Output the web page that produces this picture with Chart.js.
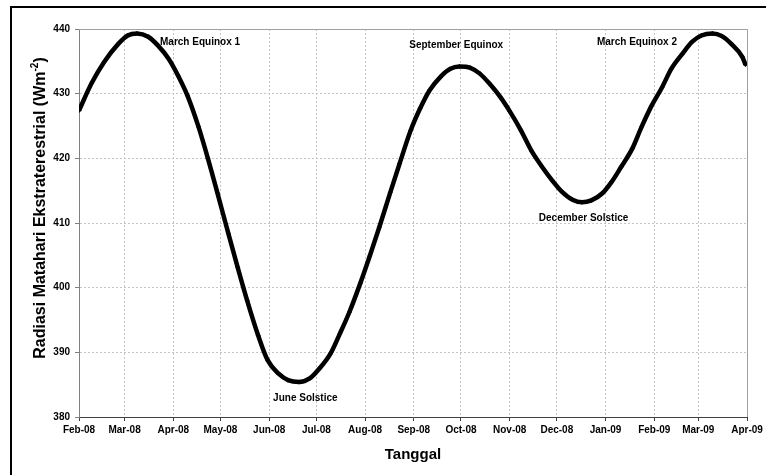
<!DOCTYPE html>
<html>
<head>
<meta charset="utf-8">
<script src="https://cdn.jsdelivr.net/npm/chart.js@4.4.1/dist/chart.umd.min.js"></script>
<style>
  html, body { margin: 0; padding: 0; background: #fff; overflow: hidden; }
  #wrap { position: relative; width: 766px; height: 475px; }
  #frame { position: absolute; left: 10px; top: 6px; width: 800px; height: 520px; border: 2px solid #000; pointer-events: none; }
</style>
</head>
<body>
<div id="wrap">
  <canvas id="chart" width="766" height="475"></canvas>
  <div id="frame"></div>
</div>
<script>
const dates = [
  '2008-02-01','2008-02-09','2008-02-17','2008-02-26','2008-03-03','2008-03-09','2008-03-16','2008-03-22','2008-03-29',
  '2008-04-04','2008-04-10','2008-04-17','2008-04-23','2008-04-29','2008-05-06','2008-05-12','2008-05-18','2008-05-25','2008-05-31',
  '2008-06-07','2008-06-13','2008-06-20','2008-06-27','2008-07-03','2008-07-10','2008-07-16','2008-07-22','2008-07-29',
  '2008-08-04','2008-08-10','2008-08-17','2008-08-23','2008-08-30','2008-09-05','2008-09-11','2008-09-18','2008-09-24','2008-09-30',
  '2008-10-07','2008-10-13','2008-10-19','2008-10-26','2008-11-01','2008-11-08','2008-11-15','2008-11-21','2008-11-28',
  '2008-12-04','2008-12-11','2008-12-17','2008-12-23','2008-12-30','2009-01-05','2009-01-11','2009-01-18','2009-01-24','2009-01-30',
  '2009-02-06','2009-02-12','2009-02-19','2009-02-25','2009-03-03','2009-03-10','2009-03-16','2009-03-22','2009-03-29','2009-03-31'
];
const radiation = [
  427.4, 431.6, 434.9, 437.7, 439.0, 439.3, 438.8, 437.5, 435.4,
  432.8, 429.7, 424.9, 420.0, 414.7, 408.4, 403.1, 398.0, 392.6, 388.8,
  386.7, 385.7, 385.4, 386.0, 387.5, 389.8, 392.9, 396.2, 400.7,
  404.9, 409.3, 414.7, 419.2, 424.3, 427.7, 430.5, 432.6, 433.8, 434.2,
  434.0, 433.1, 431.6, 429.5, 427.3, 424.4, 421.1, 418.9, 416.6,
  414.9, 413.6, 413.2, 413.5, 414.6, 416.4, 418.7, 421.5, 424.9, 428.0,
  431.0, 433.9, 436.2, 438.0, 439.0, 439.3, 438.9, 437.7, 435.7, 434.5
];

const monthStarts = ['2008-02-01','2008-03-01','2008-04-01','2008-05-01','2008-06-01','2008-07-01','2008-08-01','2008-09-01',
  '2008-10-01','2008-11-01','2008-12-01','2009-01-01','2009-02-01','2009-03-01','2009-04-01'];
const monthLabels = ['Feb-08','Mar-08','Apr-08','May-08','Jun-08','Jul-08','Aug-08','Sep-08',
  'Oct-08','Nov-08','Dec-08','Jan-09','Feb-09','Mar-09','Apr-09'];
const yTicks = [380, 390, 400, 410, 420, 430, 440];

const noteText = ['March Equinox 1','June Solstice','September Equinox','December Solstice','March Equinox 2'];
const noteDate = ['2008-04-18','2008-06-24','2008-09-28','2008-12-18','2009-01-21'];
const noteValue = [438.0, 382.9, 437.5, 410.8, 438.0];

const t0 = Date.UTC(2008, 1, 1);
function dayOf(s) {
  const p = s.split('-').map(Number);
  return (Date.UTC(p[0], p[1] - 1, p[2]) - t0) / 86400000;
}

const tickDays = monthStarts.map(dayOf);
const points = dates.map((d, i) => ({ x: dayOf(d), y: radiation[i] }));

const boldFont = size => ({ family: 'Liberation Sans, Arial, sans-serif', weight: 'bold', size: size });

const extras = {
  id: 'extras',
  afterDraw(chart) {
    const ctx = chart.ctx, a = chart.chartArea;
    const xs = chart.scales.x, ys = chart.scales.y;
    ctx.save();
    // light frame on top/right of the plot area
    ctx.strokeStyle = '#a0a0a0';
    ctx.lineWidth = 1;
    ctx.beginPath();
    ctx.moveTo(a.left, a.top + 0.5);
    ctx.lineTo(a.right + 0.5, a.top + 0.5);
    ctx.lineTo(a.right + 0.5, a.bottom);
    ctx.stroke();

    // notes
    ctx.fillStyle = '#000';
    ctx.font = 'bold 10px Liberation Sans, Arial, sans-serif';
    ctx.textAlign = 'center';
    ctx.textBaseline = 'middle';
    noteText.forEach((t, i) => {
      ctx.fillText(t, xs.getPixelForValue(dayOf(noteDate[i])), ys.getPixelForValue(noteValue[i]));
    });

    // y axis title with superscript
    const main = 'Radiasi Matahari Ekstraterestrial (Wm';
    const sup = '-2';
    const end = ')';
    const big = 'bold 16px Liberation Sans, Arial, sans-serif';
    const small = 'bold 10px Liberation Sans, Arial, sans-serif';
    ctx.font = big;
    const w1 = ctx.measureText(main).width;
    const w3 = ctx.measureText(end).width;
    ctx.font = small;
    const w2 = ctx.measureText(sup).width;
    const total = w1 + w2 + w3;
    ctx.translate(41, 208);
    ctx.rotate(-Math.PI / 2);
    ctx.textAlign = 'left';
    ctx.textBaseline = 'middle';
    let x = -total / 2;
    ctx.font = big;
    ctx.fillText(main, x, 0);
    x += w1;
    ctx.font = small;
    ctx.fillText(sup, x, -6);
    x += w2;
    ctx.font = big;
    ctx.fillText(end, x, 0);
    ctx.restore();
  }
};

new Chart(document.getElementById('chart'), {
  type: 'line',
  data: {
    datasets: [{
      data: points,
      borderColor: '#000',
      backgroundColor: '#000',
      borderWidth: 4.5,
      cubicInterpolationMode: 'monotone',
      pointStyle: 'rectRot',
      pointRadius: 2.5,
      pointBorderWidth: 0,
      fill: false
    }]
  },
  options: {
    responsive: false,
    animation: false,
    devicePixelRatio: 1,
    layout: { padding: { left: 0, top: 29, right: 19, bottom: 0 } },
    plugins: { legend: { display: false }, tooltip: { enabled: false } },
    scales: {
      x: {
        type: 'linear',
        min: 0,
        max: tickDays[tickDays.length - 1],
        afterBuildTicks: s => { s.ticks = tickDays.map(v => ({ value: v })); },
        afterFit: s => { s.height = 58; },
        ticks: {
          autoSkip: false,
          maxRotation: 0,
          padding: 3,
          color: '#000',
          font: boldFont(10),
          callback: v => monthLabels[tickDays.indexOf(v)]
        },
        grid: { color: '#c4c4c4', tickColor: '#404040', tickLength: 4 },
        border: { color: '#404040', dash: [2, 2] },
        title: {
          display: true,
          text: 'Tanggal',
          color: '#000',
          font: boldFont(15),
          padding: { top: 0, bottom: 11 }
        }
      },
      y: {
        min: 380,
        max: 440,
        afterBuildTicks: s => { s.ticks = yTicks.map(v => ({ value: v })); },
        afterFit: s => { s.width = 79; },
        ticks: { padding: 5, color: '#000', font: boldFont(10) },
        grid: { color: '#c4c4c4', tickColor: '#808080', tickLength: 4 },
        border: { color: '#808080', dash: [2, 2] }
      }
    }
  },
  plugins: [extras]
});
</script>
</body>
</html>
